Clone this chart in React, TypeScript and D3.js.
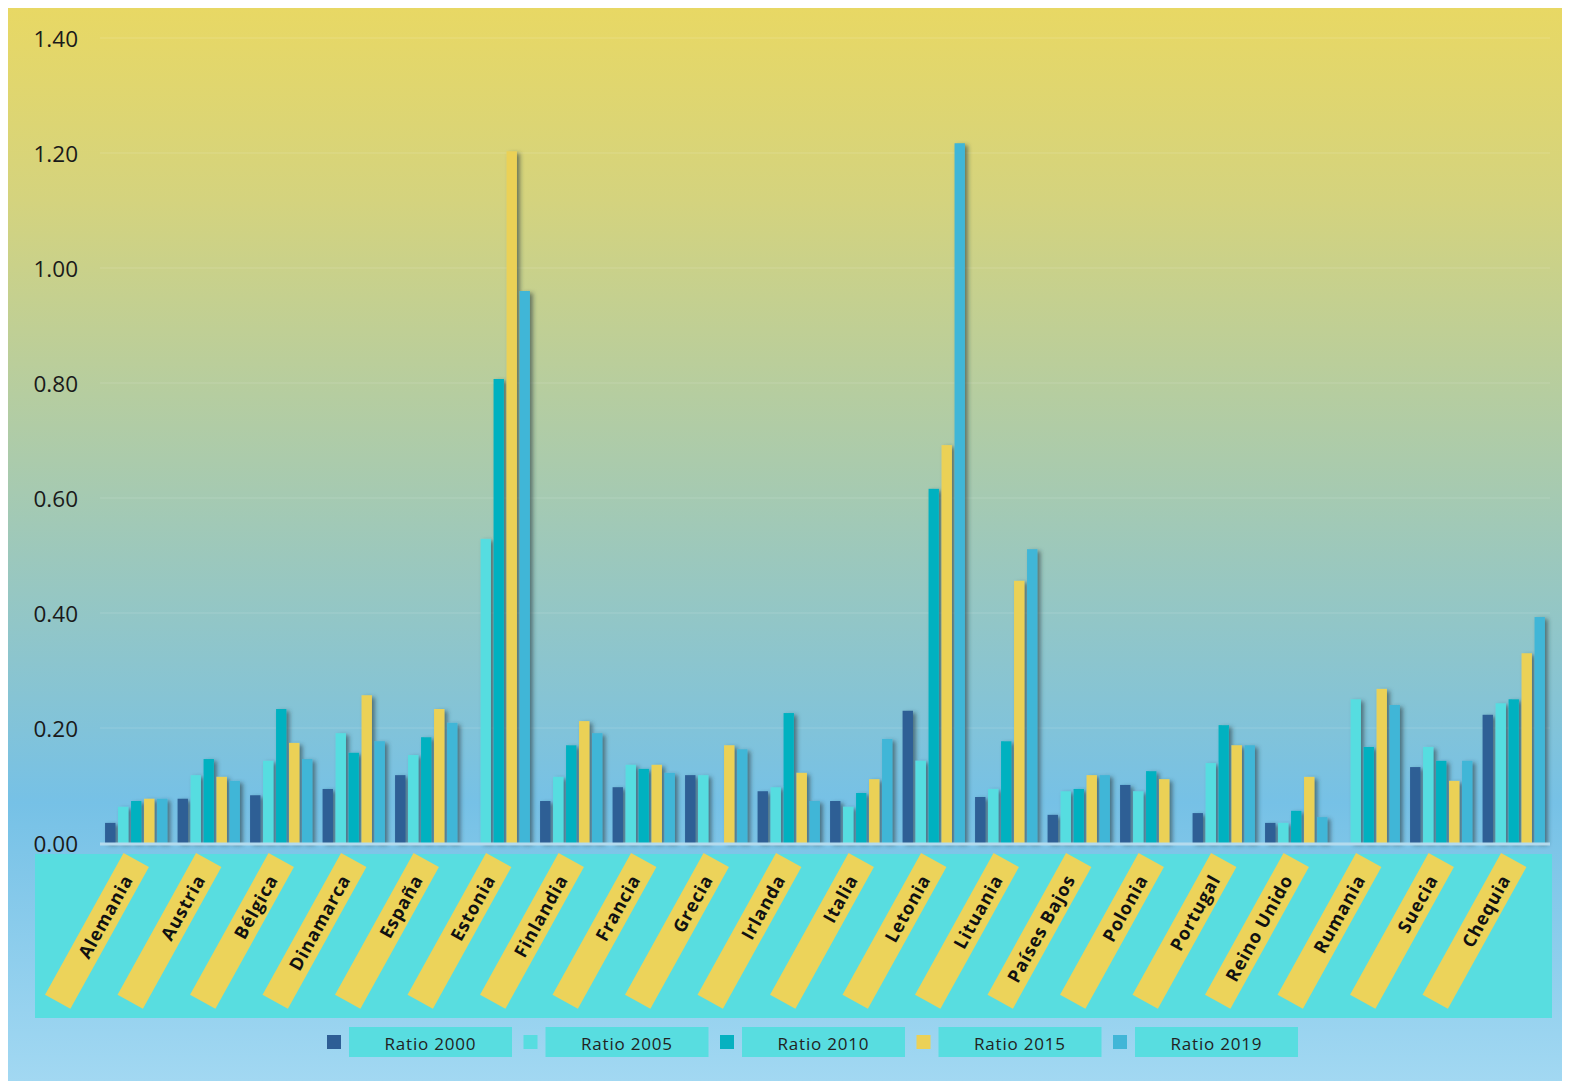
import React from "react";
import * as d3 from "d3";

const categories = ["Alemania","Austria","Bélgica","Dinamarca","España","Estonia","Finlandia","Francia","Grecia","Irlanda","Italia","Letonia","Lituania","Países Bajos","Polonia","Portugal","Reino Unido","Rumania","Suecia","Chequia"];
const seriesNames = ["Ratio 2000","Ratio 2005","Ratio 2010","Ratio 2015","Ratio 2019"];
const ratio2000 = [0.035,0.077,0.083,0.094,0.118,null,0.073,0.097,0.118,0.090,0.073,0.230,0.080,0.049,0.101,0.052,0.035,null,0.132,0.223];
const ratio2005 = [0.063,0.118,0.143,0.191,0.153,0.529,0.115,0.136,0.118,0.097,0.063,0.143,0.094,0.090,0.090,0.139,0.035,0.250,0.167,0.243];
const ratio2010 = [0.073,0.146,0.233,0.157,0.184,0.807,0.170,0.129,null,0.226,0.087,0.616,0.177,0.094,0.125,0.205,0.056,0.167,0.143,0.250];
const ratio2015 = [0.077,0.115,0.174,0.257,0.233,1.203,0.212,0.136,0.170,0.122,0.111,0.692,0.456,0.118,0.111,0.170,0.115,0.268,0.108,0.330];
const ratio2019 = [0.077,0.108,0.146,0.177,0.209,0.960,0.191,0.122,0.163,0.073,0.181,1.217,0.511,0.118,null,0.170,0.045,0.240,0.143,0.393];
const yTicks = [0, 0.2, 0.4, 0.6, 0.8, 1.0, 1.2, 1.4];
const colors = ["#2E5E95", "#57DDE0", "#06B1C0", "#EBD157", "#41B6D7"];

const seriesValues = [ratio2000, ratio2005, ratio2010, ratio2015, ratio2019];

export default function App() {
  const W = 1562, H = 1073;
  const plotLeft = 100, plotRight = 1550;
  const y = d3.scaleLinear().domain([0, 1.4]).range([843, 38]);
  const x0 = d3.scaleBand<string>().domain(categories).range([plotLeft, plotRight]).paddingInner(0.14).paddingOuter(0.07);
  const x1 = d3.scaleBand<string>().domain(seriesNames).range([0, x0.bandwidth()]).paddingInner(0.2);
  const catCenter = (c: string) => (x0(c) as number) + x0.bandwidth() / 2;

  const fontMain = "'Open Sans', 'Noto Sans', sans-serif";

  return (
    <svg width={W} height={H} viewBox={`8 8 ${W} ${H}`} style={{ display: "block" }}>
      <defs>
        <linearGradient id="bg" x1="0" y1="0" x2="0" y2="1">
          <stop offset="0" stopColor="#E8D864" />
          <stop offset="0.18" stopColor="#D4D37E" />
          <stop offset="0.51" stopColor="#9CC8BC" />
          <stop offset="0.74" stopColor="#76C1E6" />
          <stop offset="1" stopColor="#A2D8F2" />
        </linearGradient>
        <filter id="shadow" x="-10%" y="-5%" width="130%" height="115%">
          <feDropShadow dx="3" dy="2" stdDeviation="2" floodColor="#2b3b40" floodOpacity="0.6" />
        </filter>
      </defs>
      <rect x={8} y={8} width={W} height={H} fill="url(#bg)" />

      {/* gridlines */}
      {yTicks.filter(t => t > 0).map(t => (
        <line key={t} x1={plotLeft} x2={plotRight} y1={y(t)} y2={y(t)} stroke="rgba(255,255,255,0.1)" strokeWidth={1.5} />
      ))}

      {/* y tick labels */}
      {yTicks.map(t => (
        <text key={t} x={78} y={y(t)} textAnchor="end" dominantBaseline="central" fontFamily={fontMain} fontSize={22.5} fill="#1a1a1a">
          {t.toFixed(2)}
        </text>
      ))}

      {/* bars */}
      <g filter="url(#shadow)">
        {seriesValues.map((vals, si) =>
          vals.map((v, ci) =>
            v == null ? null : (
              <rect key={`${si}-${ci}`} x={(x0(categories[ci]) as number) + (x1(seriesNames[si]) as number)} y={y(v)} width={x1.bandwidth()} height={y(0) - y(v)} fill={colors[si]} />
            )
          )
        )}
      </g>

      {/* baseline */}
      <line x1={plotLeft} x2={plotRight} y1={y(0) + 1} y2={y(0) + 1} stroke="#B5DBEE" strokeWidth={3} />

      {/* category band */}
      <rect x={35} y={854} width={1517} height={164} fill="#58DDE0" />
      {categories.map(c => (
        <g key={c} transform={`translate(${catCenter(c)},860) rotate(-61)`}>
          <rect x={-162} y={-14.5} width={162} height={29} fill="#ECD35A" />
          <text x={-18} y={0} textAnchor="end" dominantBaseline="central" fontFamily={fontMain} fontWeight={700} fontSize={18} letterSpacing={0.9} fill="#111">
            {c}
          </text>
        </g>
      ))}

      {/* legend */}
      {seriesNames.map((s, i) => {
        const lx = 327 + i * 196.5;
        return (
          <g key={s}>
            <rect x={lx} y={1035} width={14} height={14} fill={colors[i]} />
            <rect x={lx + 22} y={1027} width={163} height={30} fill="#58DDE0" />
            <text x={lx + 22 + 81.5} y={1043} textAnchor="middle" dominantBaseline="central" fontFamily={fontMain} fontSize={17} letterSpacing={0.8} fill="#222">
              {s}
            </text>
          </g>
        );
      })}
    </svg>
  );
}
